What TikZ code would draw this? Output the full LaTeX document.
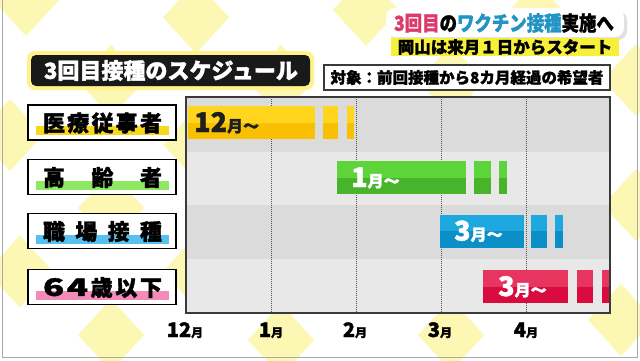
\documentclass[tikz,border=0pt]{standalone}
\usepackage{fontspec}
\setmainfont{Noto Sans CJK JP}[BoldFeatures={FakeBold=1.6}]
\definecolor{diam}{HTML}{FCF7B2}
\definecolor{rowdark}{HTML}{DCDBDC}
\definecolor{rowlight}{HTML}{E9E8E9}
\definecolor{chartline}{HTML}{3A3A3A}
\definecolor{gridc}{HTML}{505050}
\definecolor{ytop}{HTML}{FFD51E}
\definecolor{ybot}{HTML}{F8C000}
\definecolor{gtop}{HTML}{5CD43A}
\definecolor{gbot}{HTML}{47B42C}
\definecolor{btop}{HTML}{1EA8E0}
\definecolor{bbot}{HTML}{0A8FC6}
\definecolor{rtop}{HTML}{E8355F}
\definecolor{rbot}{HTML}{D80A3E}
\definecolor{bandy}{HTML}{F8D81A}
\definecolor{bandg}{HTML}{8EE862}
\definecolor{bandb}{HTML}{58C0F0}
\definecolor{bandp}{HTML}{F48AB8}
\definecolor{hlred}{HTML}{DC3A6C}
\definecolor{hlblue}{HTML}{2294C4}
\definecolor{hlyellow}{HTML}{F6F03A}
\definecolor{glowy}{HTML}{FFF28A}
\definecolor{framec}{HTML}{A8A8A8}
\newcommand\twotone[5]{%
  \fill[#4] (#1,#3-16.5) rectangle (#2,#3);
  \fill[#5] (#1,#3) rectangle (#2,#3+16.5);}
\newcommand\fsz[1]{\fontsize{#1}{#1}\selectfont}
\newcommand\widedig[1]{\scalebox{1.45}[1]{\fsz{24}#1}}
\begin{document}
\begin{tikzpicture}[x=1pt,y=-1pt,
  lblbox/.style={draw=black,line width=1.4pt,fill=white,minimum width=148pt,minimum height=35pt,inner sep=0pt},
  lbltxt/.style={inner sep=0pt,font=\bfseries\fsz{22},text=black},
  bartxt/.style={inner sep=0pt,anchor=base west,font=\bfseries},
  axistxt/.style={inner sep=0pt,anchor=base,font=\bfseries,text=black},
  gridl/.style={gridc,line width=0.8pt,dash pattern=on 1pt off 1pt}]
\useasboundingbox (0,0) rectangle (640,360);
\fill[white] (0,0) rectangle (640,360);
% background diamonds
\foreach \cx/\cy in {111/335,281/340,451/335,621/320,111/208,281/208,451/208,636/205,
  111/81,281/81,451/81,636/80,111/-46,281/-46,451/-46,621/-46,
  20/271.5,196/271.5,366/271.5,536/271.5,10/135,196/144.5,366/144.5,536/144.5,
  26/0,196/17.5,366/10,536/17.5}
  \fill[diam] (\cx,\cy) ++(-33,0) -- ++(33,-36) -- ++(33,36) -- ++(-33,36) -- cycle;
% frame
\draw[framec,line width=1pt] (2,0) -- (2,357) -- (637,357) -- (637,0);
% headline
\fill[black!12,rounded corners=9pt] (389,11) rectangle (627,40);
\fill[white,rounded corners=9pt] (386,8) rectangle (624,37);
\fill[hlyellow] (391,38) rectangle (619,56);
\node[inner sep=0pt,font=\bfseries] (head) at (504,23)
  {\scalebox{0.85}[1]{\fsz{20.5}\textcolor{hlred}{3回目}の\textcolor{hlblue}{ワクチン接種}実施へ}};
\node[inner sep=0pt,font=\bfseries\fsz{16.5}] (sub) at (505,47) {岡山は来月１日からスタート};
% title
\fill[glowy,rounded corners=8pt] (27,51) rectangle (314,90);
\fill[black!90,rounded corners=5pt] (31,55) rectangle (310,86);
\node[inner sep=0pt,font=\bfseries\fsz{22},text=white] (title) at (171,70.5) {3回目接種のスケジュール};
% target box
\node[draw=chartline,line width=1.2pt,fill=white,minimum width=286pt,minimum height=25pt,inner sep=0pt] (tgtbox) at (467,77.5) {};
\node[inner sep=0pt,font=\bfseries\fsz{15.5}] (tgt) at (467,77.5) {対象：前回接種から8カ月経過の希望者};
% chart rows
\fill[rowdark] (186,97) rectangle (610,152);
\fill[rowlight] (186,152) rectangle (610,205);
\fill[rowdark] (186,205) rectangle (610,259);
\fill[rowlight] (186,259) rectangle (610,313);
\foreach \gx in {271,356,441,526} \draw[gridl] (\gx,97) -- (\gx,313);
% bars
\twotone{188}{315}{122.5}{ytop}{ybot}
\twotone{323}{338}{122.5}{ytop}{ybot}
\twotone{347}{354}{122.5}{ytop}{ybot}
\twotone{337}{466}{177.5}{gtop}{gbot}
\twotone{474}{491}{177.5}{gtop}{gbot}
\twotone{499}{507}{177.5}{gtop}{gbot}
\twotone{440}{524}{231}{btop}{bbot}
\twotone{531}{547}{231}{btop}{bbot}
\twotone{555}{563}{231}{btop}{bbot}
\twotone{483}{568}{286.5}{rtop}{rbot}
\twotone{577}{593}{286.5}{rtop}{rbot}
\twotone{602}{610}{286.5}{rtop}{rbot}
\draw[chartline,line width=1.3pt] (186,97) rectangle (610,313);
% bar labels
\node[bartxt,text=black!88] (b1) at (194,132) {\fsz{27}12\fsz{16}月〜};
\node[bartxt,text=white] (b2) at (351,187) {\fsz{27}1\fsz{16}月〜};
\node[bartxt,text=white] (b3) at (454,240.5) {\fsz{27}3\fsz{16}月〜};
\node[bartxt,text=white] (b4) at (498,296) {\fsz{27}3\fsz{16}月〜};
% row labels
\node[lblbox] (l1) at (102,122.5) {};
\fill[bandy] (36,126) rectangle (169,135);
\node[lbltxt] (t1) at (102.5,123) {\makebox[119pt]{医\hfill 療\hfill 従\hfill 事\hfill 者}};
\node[lblbox] (l2) at (102,177) {};
\fill[bandg] (36,180.5) rectangle (169,189.5);
\node[lbltxt] (t2) at (102.5,177.5) {\makebox[119pt]{高\hfill 齢\hfill 者}};
\node[lblbox] (l3) at (102,231) {};
\fill[bandb] (36,234.5) rectangle (169,243.5);
\node[lbltxt] (t3) at (102.5,231.5) {\makebox[119pt]{職\hfill 場\hfill 接\hfill 種}};
\node[lblbox] (l4) at (102,287) {};
\fill[bandp] (36,290.5) rectangle (169,299.5);
\node[lbltxt] (t4) at (102.5,287.5) {\makebox[119pt]{\widedig{6}\hfill \widedig{4}\hfill 歳\hfill 以\hfill 下}};
% axis labels
\node[axistxt] (m12) at (185,337) {\fsz{20}12\fsz{12}月};
\node[axistxt] (m1) at (271,337) {\fsz{20}1\fsz{12}月};
\node[axistxt] (m2) at (355,337) {\fsz{20}2\fsz{12}月};
\node[axistxt] (m3) at (440,337) {\fsz{20}3\fsz{12}月};
\node[axistxt] (m4) at (526,337) {\fsz{20}4\fsz{12}月};
\end{tikzpicture}
\end{document}
